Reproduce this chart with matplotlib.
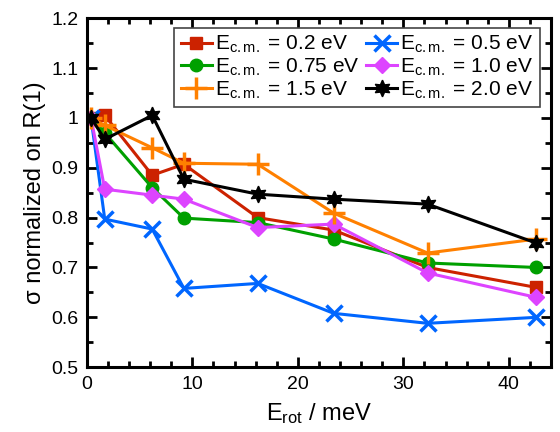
import numpy as np
import matplotlib.pyplot as plt
from matplotlib.ticker import MultipleLocator, FormatStrFormatter, FuncFormatter

plt.rcParams['font.family'] = ['Liberation Sans', 'DejaVu Sans']
plt.rcParams['mathtext.fontset'] = 'custom'
plt.rcParams['mathtext.rm'] = 'Liberation Sans'
plt.rcParams['mathtext.it'] = 'Liberation Sans:italic'

# Rotationsenergie (meV)
e_rot = [0.4, 1.7, 6.2, 9.2, 16.2, 23.4, 32.3, 42.6]

# normierte Wirkungsquerschnitte je Stossenergie
s_02 = [1.00, 1.005, 0.885, 0.907, 0.80, 0.775, 0.70, 0.66]
s_05 = [1.00, 0.797, 0.777, 0.658, 0.668, 0.608, 0.588, 0.60]
s_075 = [1.00, 0.97, 0.86, 0.799, 0.79, 0.757, 0.709, 0.70]
s_10 = [1.00, 0.857, 0.845, 0.837, 0.78, 0.787, 0.689, 0.64]
s_15 = [1.00, 0.985, 0.94, 0.909, 0.907, 0.809, 0.729, 0.757]
s_20 = [1.00, 0.957, 1.005, 0.877, 0.847, 0.837, 0.827, 0.749]

fig = plt.figure(figsize=(5.6, 4.32), dpi=100)
ax = fig.add_axes([0.155, 0.150, 0.829, 0.808])

lw = 2.2
l1, = ax.plot(e_rot, s_02, color='#cc2200', marker='s', ms=9, lw=lw,
              label=r'E$_{\mathrm{c.m.}}$ = 0.2 eV')
l2, = ax.plot(e_rot, s_05, color='#0066ff', marker='x', ms=12, mew=2.5, lw=lw,
              label=r'E$_{\mathrm{c.m.}}$ = 0.5 eV')
l3, = ax.plot(e_rot, s_075, color='#00a000', marker='o', ms=9, lw=lw,
              label=r'E$_{\mathrm{c.m.}}$ = 0.75 eV')
l4, = ax.plot(e_rot, s_10, color='#dd44ff', marker='D', ms=8, lw=lw,
              label=r'E$_{\mathrm{c.m.}}$ = 1.0 eV')
l5, = ax.plot(e_rot, s_15, color='#ff8000', marker='+', ms=16, mew=2.5, lw=lw,
              label=r'E$_{\mathrm{c.m.}}$ = 1.5 eV')
l6, = ax.plot(e_rot, s_20, color='black', marker=(6, 1, 0), ms=12, lw=lw,
              label=r'E$_{\mathrm{c.m.}}$ = 2.0 eV')

ax.set_xlim(0, 44)
ax.set_ylim(0.5, 1.2)
ax.xaxis.set_major_locator(MultipleLocator(10))
ax.xaxis.set_minor_locator(MultipleLocator(2))
ax.yaxis.set_major_locator(MultipleLocator(0.1))
ax.yaxis.set_minor_locator(MultipleLocator(0.05))
ax.yaxis.set_major_formatter(FuncFormatter(lambda v, p: '%g' % round(v, 2)))

ax.tick_params(which='both', direction='in', top=True, right=True, width=2,
               labelsize=14, pad=6)
ax.tick_params(which='major', length=7)
ax.tick_params(which='minor', length=4)
for sp in ax.spines.values():
    sp.set_linewidth(2.2)

ax.set_xlabel(r'E$_{\mathrm{rot}}$ / meV', fontsize=17, labelpad=6)
ax.set_ylabel(r'σ normalized on R(1)', fontsize=17, labelpad=4)

leg = ax.legend(handles=[l1, l3, l5, l2, l4, l6], ncol=2, fontsize=15,
                loc='upper right', bbox_to_anchor=(0.985, 0.985),
                fancybox=False, edgecolor='#444444', framealpha=1,
                handlelength=1.5, handletextpad=0.15, columnspacing=0.3,
                labelspacing=0.08, borderpad=0.3, borderaxespad=0.2)
leg.get_frame().set_linewidth(1.2)

fig.savefig('out.png', dpi=100)
